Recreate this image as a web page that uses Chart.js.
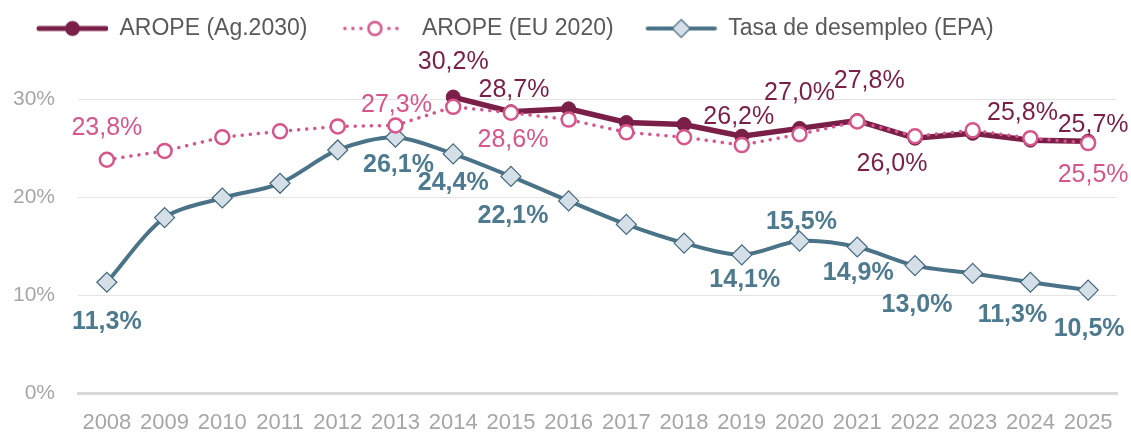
<!DOCTYPE html>
<html>
<head>
<meta charset="utf-8">
<script src="https://cdn.jsdelivr.net/npm/chart.js@4.4.1/dist/chart.umd.min.js"></script>
<style>
  html, body { margin: 0; padding: 0; background: #fff; }
  #wrap { width: 1131px; height: 434px; }
</style>
</head>
<body>
<div id="wrap"><canvas id="chart"></canvas></div>
<script>
// data
const years = ["2008", "2009", "2010", "2011", "2012", "2013", "2014", "2015", "2016",
  "2017", "2018", "2019", "2020", "2021", "2022", "2023", "2024", "2025"];
const aropeAg2030 = [null, null, null, null, null, null,
  30.2, 28.7, 29.0, 27.6, 27.4, 26.2, 27.0, 27.8, 26.0, 26.5, 25.8, 25.7];
const aropeEU2020 = [23.8, 24.7, 26.1, 26.7, 27.2, 27.3, 29.2, 28.6, 27.9,
  26.6, 26.1, 25.3, 26.4, 27.7, 26.2, 26.8, 26.0, 25.5];
const desempleo = [11.3, 17.9, 19.9, 21.4, 24.8, 26.1, 24.4, 22.1, 19.6,
  17.2, 15.3, 14.1, 15.5, 14.9, 13.0, 12.2, 11.3, 10.5];
const yTicks = [0, 10, 20, 30];

// which points get a value label, and where it sits relative to the point [index, dx, dy]
const labelsAg = [[6, 0, -35], [7, 3, -22], [11, -3, -19], [12, 0, -35], [13, 12, -39],
  [14, -23, 26], [16, -8, -27], [17, 5, -16]];
const labelsEU = [[0, 0, -32], [5, 1, -20], [7, 2, 27], [17, 5, 32]];
const labelsDes = [[0, 0, 40], [5, 3, 28], [6, 0, 29], [7, 2, 40], [11, 3, 25],
  [12, 2, -19], [13, 1, 26], [14, 2, 40], [16, -18, 33], [17, 1, 39]];

const MAROON = "#7a1f47";
const PINK = "#d6558b";
const SLATE = "#4b7388";
const SLATE_TXT = "#4e7a8f";

Chart.defaults.font.family = "'Liberation Sans', Arial, sans-serif";

const fmt = v => v.toFixed(1).replace(".", ",") + "%";

// legend icons: blank gap on the left, then the line sample
function legendIcon(kind) {
  const c = document.createElement("canvas");
  c.width = 93; c.height = 24;
  const g = c.getContext("2d");
  const cy = 12, x0 = 22, x1 = 93, cx = (x0 + x1) / 2;
  if (kind === "ag") {
    g.strokeStyle = MAROON; g.lineWidth = 5; g.lineCap = "round";
    g.beginPath(); g.moveTo(x0 + 2, cy); g.lineTo(x1 - 2, cy); g.stroke();
    g.fillStyle = MAROON;
    g.beginPath(); g.arc(cx, cy, 7.5, 0, Math.PI * 2); g.fill();
  } else if (kind === "eu") {
    g.fillStyle = PINK;
    [cx - 30, cx - 22, cx - 14, cx + 14, cx + 22].forEach(x => {
      g.beginPath(); g.arc(x, cy, 1.8, 0, Math.PI * 2); g.fill();
    });
    g.strokeStyle = PINK; g.lineWidth = 2.5; g.fillStyle = "#fff";
    g.beginPath(); g.arc(cx, cy, 6.5, 0, Math.PI * 2); g.fill(); g.stroke();
  } else {
    g.strokeStyle = SLATE; g.lineWidth = 4; g.lineCap = "round";
    g.beginPath(); g.moveTo(x0 + 2, cy); g.lineTo(x1 - 2, cy); g.stroke();
    g.fillStyle = "#d5dfe8"; g.strokeStyle = "#44697d"; g.lineWidth = 1.2;
    g.beginPath(); g.moveTo(cx, cy - 9); g.lineTo(cx + 9, cy); g.lineTo(cx, cy + 9);
    g.lineTo(cx - 9, cy); g.closePath(); g.fill(); g.stroke();
  }
  return c;
}
const icons = [legendIcon("ag"), legendIcon("eu"), legendIcon("des")];

const valueLabels = {
  id: "valueLabels",
  afterDatasetsDraw(chart) {
    const ctx = chart.ctx;
    ctx.save();
    ctx.textAlign = "center";
    ctx.textBaseline = "middle";
    chart.data.datasets.forEach((ds, di) => {
      const meta = chart.getDatasetMeta(di);
      ctx.fillStyle = ds.labelColor;
      ctx.font = (ds.labelBold ? "bold " : "") + "25px 'Liberation Sans', Arial, sans-serif";
      ds.labelPlaces.forEach(([i, dx, dy]) => {
        const p = meta.data[i];
        ctx.fillText(fmt(ds.data[i]), p.x + dx, p.y + dy);
      });
    });
    ctx.restore();
  }
};

new Chart(document.getElementById("chart"), {
  type: "line",
  data: {
    labels: years,
    datasets: [
      {
        label: "AROPE (Ag.2030)",
        data: aropeAg2030,
        borderColor: MAROON,
        backgroundColor: MAROON,
        borderWidth: 5.5,
        pointRadius: 7,
        pointBackgroundColor: MAROON,
        pointBorderColor: MAROON,
        pointBorderWidth: 1,
        tension: 0,
        order: 2,
        labelPlaces: labelsAg,
        labelColor: MAROON,
        labelBold: false
      },
      {
        label: "AROPE (EU 2020)",
        data: aropeEU2020,
        borderColor: PINK,
        backgroundColor: "#fff",
        borderWidth: 3.5,
        borderDash: [0.1, 8],
        borderCapStyle: "round",
        pointRadius: 7,
        pointBackgroundColor: "#fff",
        pointBorderColor: PINK,
        pointBorderWidth: 2.5,
        tension: 0,
        order: 1,
        labelPlaces: labelsEU,
        labelColor: PINK,
        labelBold: false
      },
      {
        label: "Tasa de desempleo (EPA)",
        data: desempleo,
        borderColor: SLATE,
        backgroundColor: "#d5dfe8",
        borderWidth: 4,
        pointStyle: "rectRot",
        pointRadius: 10,
        pointBackgroundColor: "#d5dfe8",
        pointBorderColor: "#44697d",
        pointBorderWidth: 1.2,
        tension: 0.3,
        order: 3,
        labelPlaces: labelsDes,
        labelColor: SLATE_TXT,
        labelBold: true
      }
    ]
  },
  options: {
    responsive: true,
    maintainAspectRatio: false,
    animation: false,
    layout: { padding: { left: 5, top: 7, right: 14, bottom: 0 } },
    plugins: {
      tooltip: { enabled: false },
      legend: {
        position: "top",
        align: "start",
        labels: {
          usePointStyle: true,
          pointStyleWidth: 93,
          padding: 10,
          color: "#595959",
          font: { size: 23 },
          generateLabels(chart) {
            return chart.data.datasets.map((ds, i) => ({
              text: ds.label,
              pointStyle: icons[i],
              fontColor: "#595959",
              hidden: false,
              datasetIndex: i,
              lineWidth: 0,
              strokeStyle: "transparent",
              fillStyle: "transparent"
            }));
          }
        }
      }
    },
    scales: {
      x: {
        offset: true,
        grid: { display: false, drawTicks: false },
        border: { display: true, color: "#d9d9d9", width: 3 },
        afterFit(axis) { axis.height = 41; },
        ticks: { color: "#a6a6a6", font: { size: 22 }, padding: 17, maxRotation: 0, autoSkip: false }
      },
      y: {
        min: 0,
        max: 35,
        grid: { color: "#e4e4e4", lineWidth: 1, drawTicks: false },
        border: { display: false },
        afterBuildTicks(axis) { axis.ticks = yTicks.map(v => ({ value: v })); },
        afterFit(axis) { axis.width = 73; },
        ticks: {
          color: "#a6a6a6",
          font: { size: 21 },
          padding: 23,
          callback: v => v + "%"
        }
      }
    }
  },
  plugins: [valueLabels]
});
</script>
</body>
</html>
